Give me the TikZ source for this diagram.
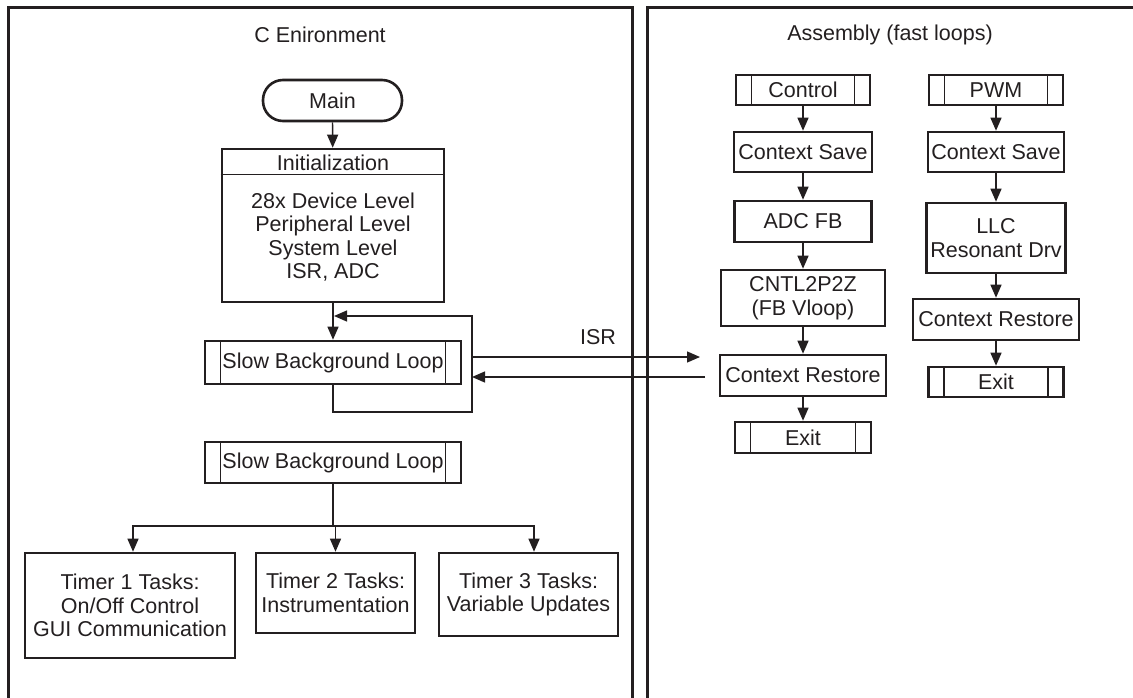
\documentclass[tikz,border=0pt]{standalone}
\usepackage{fontspec}
\setmainfont{Liberation Sans}
\usetikzlibrary{arrows.meta}
\definecolor{ink}{HTML}{231F20}
\begin{document}
\begin{tikzpicture}[x=1pt,y=-1pt,
  every node/.style={font=\fontsize{21.5}{23.5}\selectfont, text=ink},
  box/.style={draw=ink, line width=2.6pt, inner sep=0pt, align=center},
  sub/.style={box, path picture={\draw[ink, line width=1.1pt]
      ([xshift=15.5pt]path picture bounding box.north west) -- ([xshift=15.5pt]path picture bounding box.south west)
      ([xshift=-15.5pt]path picture bounding box.north east) -- ([xshift=-15.5pt]path picture bounding box.south east);}},
  arr/.style={draw=ink, line width=1.3pt, -{Triangle[length=13pt,width=11pt]}},
  thinline/.style={draw=ink, line width=1.3pt},
  panel/.style={draw=ink, line width=3pt},
  txt/.style={inner sep=0pt, align=center}]
\useasboundingbox (0,0) rectangle (1133,698);
\clip (0,0) rectangle (1133,698);
\fill[white] (0,0) rectangle (1133,698);

% panels
\draw[panel] (8,720) -- (8,8) -- (632,8) -- (632,720);
\draw[panel] (647,720) -- (647,8) -- (1160,8);

% titles
\node[txt] (t1title) at (320,35) {C Enironment};
\node[txt] (t2title) at (890,35) {Assembly (fast loops)};

% C environment
\node[box, rounded corners=20pt, minimum width=139pt, minimum height=41pt] (main) at (332.5,100.5) {Main};
\node[box, minimum width=222pt, minimum height=153pt] (init) at (333,225.5) {};
\draw[thinline] ([yshift=-27pt]init.north west) -- ([yshift=-27pt]init.north east);
\node[txt] (inithead) at (333,163) {Initialization};
\node[txt] (initbody) at (333,237) {28x Device Level\\Peripheral Level\\System Level\\ISR, ADC};

\node[sub, minimum width=256pt, minimum height=43pt] (loop1) at (333,362.5) {Slow Background Loop};
\node[sub, minimum width=256pt, minimum height=41pt] (loop2) at (333,462.5) {Slow Background Loop};

\node[box, minimum width=210pt, minimum height=105pt] (tim1) at (130,605.5) {Timer 1 Tasks:\\On/Off Control\\GUI Communication};
\node[box, minimum width=159pt, minimum height=80pt] (tim2) at (335.5,593) {Timer 2 Tasks:\\Instrumentation};
\node[box, minimum width=179pt, minimum height=83pt] (tim3) at (528.5,594.5) {Timer 3 Tasks:\\Variable Updates};

\draw[arr] (main) -- (init);
\draw[arr] (init) -- (loop1);
\coordinate (fbB) at (472,412);
\coordinate (fbD) at (334,316);
\draw[arr] (loop1.south) |- (fbB) |- (fbD);

\coordinate (br) at (333,526);
\draw[thinline] (loop2.south) -- (br);
\draw[arr] (br) -| ([xshift=3pt]tim1.north);
\draw[arr] (br) -| (tim2.north);
\draw[arr] (br) -| ([xshift=5.5pt]tim3.north);

% ISR link
\coordinate (isrS) at (472,357);
\coordinate (isrE) at (700,357);
\coordinate (retS) at (705,377);
\coordinate (retE) at (472,377);
\draw[arr] (isrS) -- (isrE);
\draw[arr] (retS) -- (retE);
\node[txt] (isr) at (598,337) {ISR};

% Assembly: control chain
\node[sub, minimum width=134pt, minimum height=30pt] (ctl) at (803,90) {Control};
\node[box, minimum width=138pt, minimum height=40pt] (cs1) at (803,152) {Context Save};
\node[box, minimum width=137pt, minimum height=41pt] (adc) at (803,221.5) {ADC FB};
\node[box, minimum width=164pt, minimum height=56pt] (cntl) at (803,298) {CNTL2P2Z\\(FB Vloop)};
\node[box, minimum width=166pt, minimum height=41pt] (cr1) at (803,375.5) {Context Restore};
\node[sub, minimum width=136pt, minimum height=31pt] (ex1) at (803,437.5) {Exit};
\draw[arr] (ctl) -- (cs1);
\draw[arr] (cs1) -- (adc);
\draw[arr] (adc) -- (cntl);
\draw[arr] (cntl) -- (cr1);
\draw[arr] (cr1) -- (ex1);

% Assembly: PWM chain
\node[sub, minimum width=134pt, minimum height=30pt] (pwm) at (996,90) {PWM};
\node[box, minimum width=136pt, minimum height=40pt] (cs2) at (996,152) {Context Save};
\node[box, minimum width=139pt, minimum height=70pt] (llc) at (996,238) {LLC\\Resonant Drv};
\node[box, minimum width=166pt, minimum height=41pt] (cr2) at (996,319.5) {Context Restore};
\node[sub, minimum width=135pt, minimum height=30pt] (ex2) at (996,382) {Exit};
\draw[arr] (pwm) -- (cs2);
\draw[arr] (cs2) -- (llc);
\draw[arr] (llc) -- (cr2);
\draw[arr] (cr2) -- (ex2);
\end{tikzpicture}
\end{document}
